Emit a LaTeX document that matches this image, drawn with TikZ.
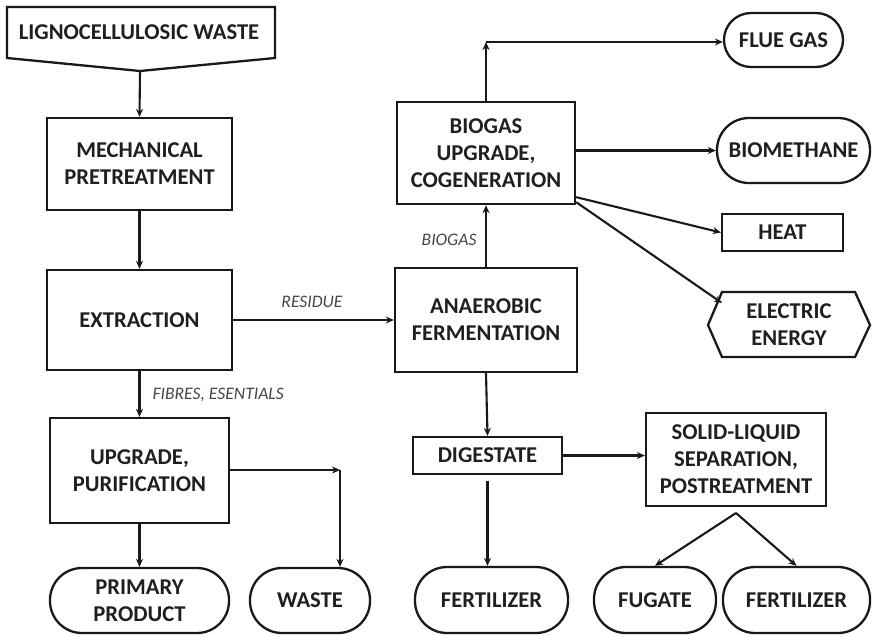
\documentclass[tikz,border=0pt]{standalone}
\usepackage{fontspec}
\setmainfont{Carlito}
\usetikzlibrary{arrows.meta}
\begin{document}
\begin{tikzpicture}[x=1pt,y=-1pt,
  bigfont/.style={font=\bfseries\fontsize{22.6}{27}\selectfont, text=black!88},
  box/.style={draw=black!90, line width=2.3pt, align=center, bigfont, inner sep=0pt},
  term/.style={box, rounded corners=32pt},
  plain/.style={line width=2.1pt, draw=black!90},
  arr/.style={plain, -{Stealth[length=8pt,width=7pt]}},
  lbl/.style={font=\itshape\fontsize{17.6}{20}\selectfont, text=black!72}]
\useasboundingbox (0,0) rectangle (872,635);

% top input shape
\draw[plain, line width=2.3pt] (7,7) -- (275,7) -- (275,58) -- (140,71) -- (7,58) -- cycle;
\node[bigfont] (lw) at (139,32) {LIGNOCELLULOSIC WASTE};
\coordinate (lwtip) at (140,71);

% left column
\node[box, minimum width=185pt, minimum height=92pt] (mech) at (139.5,164) {MECHANICAL\\PRETREATMENT};
\node[box, minimum width=185pt, minimum height=100pt] (extr) at (139.5,320) {EXTRACTION};
\node[box, minimum width=179pt, minimum height=105pt] (upg) at (139.5,470.5) {UPGRADE,\\PURIFICATION};
\node[term, minimum width=179pt, minimum height=65pt] (pp) at (139.5,600.5) {PRIMARY\\PRODUCT};
\node[term, minimum width=120pt, minimum height=65pt] (waste) at (310,600.5) {WASTE};

% middle column
\node[box, minimum width=182pt, minimum height=104pt] (anae) at (486,320) {ANAEROBIC\\FERMENTATION};
\node[box, minimum width=178pt, minimum height=102pt] (bio) at (486,153) {BIOGAS\\UPGRADE,\\COGENERATION};
\node[box, minimum width=149pt, minimum height=37pt] (dig) at (487.5,455.5) {DIGESTATE};
\node[term, minimum width=153pt, minimum height=66pt] (fert1) at (491.5,600) {FERTILIZER};

% right column
\node[term, minimum width=119pt, minimum height=54pt, rounded corners=27pt] (flue) at (783.5,40) {FLUE GAS};
\node[term, minimum width=153pt, minimum height=65pt] (bmeth) at (793.5,150.5) {BIOMETHANE};
\node[box, minimum width=121pt, minimum height=37pt] (heat) at (782.5,232.5) {HEAT};
\draw[plain, line width=2.3pt] (708,325) -- (722,292) -- (855,292) -- (870,325) -- (855,357) -- (722,357) -- cycle;
\node[bigfont, align=center] (elec) at (789,325) {ELECTRIC\\ENERGY};
\coordinate (elecin) at (722,303);
\node[box, minimum width=180pt, minimum height=93pt] (sol) at (736,459.5) {SOLID-LIQUID\\SEPARATION,\\POSTREATMENT};
\node[term, minimum width=122pt, minimum height=66pt] (fug) at (655,600) {FUGATE};
\node[term, minimum width=147pt, minimum height=66pt] (fert2) at (796.5,600) {FERTILIZER};

% connectors
\draw[arr] (lwtip) -- (mech.north);
\draw[arr] (mech.south) -- (extr.north);
\draw[arr] (extr.south) -- (upg.north);
\node[lbl, anchor=west] (lfib) at (149,395) {FIBRES, ESENTIALS};
\draw[arr] (upg.south) -- (pp.north);
\coordinate (wc) at (340,470);
\draw[arr] (upg.east |- wc) -- (wc);
\draw[arr] (wc) -- (wc |- waste.north);

\draw[arr] (extr.east) -- (anae.west);
\node[lbl] (lres) at (312,302) {RESIDUE};
\draw[arr] (anae.north) -- (bio.south);
\node[lbl, anchor=east] (lbio) at (480,240) {BIOGAS};
\coordinate (fc) at (486,42);
\draw[arr] (bio.north) -- (fc);
\draw[arr] (fc) -- (fc -| flue.west);
\draw[arr] (bio.east |- bmeth.west) -- (bmeth.west);
\draw[arr] ([yshift=8pt]bio.south east) -- (heat.west);
\draw[arr] ([yshift=3pt]bio.south east) -- (elecin);

\draw[arr] (anae.south) -- (dig.north);
\draw[arr] ([yshift=-6pt]dig.south) -- (fert1.north -| dig.south);
\draw[arr] (dig.east) -- (dig.east -| sol.west);
\coordinate (sb) at (736,513);
\draw[arr] (sb) -- (fug.north);
\draw[arr] (sb) -- (fert2.north);
\end{tikzpicture}
\end{document}
